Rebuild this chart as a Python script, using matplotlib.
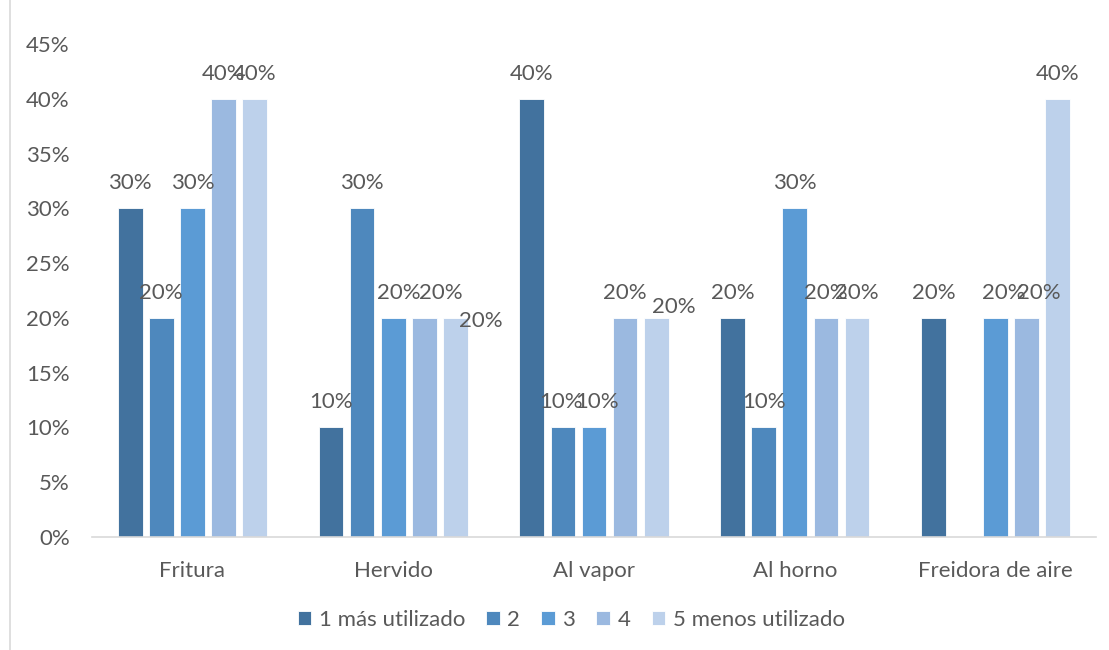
import numpy as np
import matplotlib.pyplot as plt
from matplotlib.lines import Line2D

plt.rcParams['font.family'] = ['Lato', 'DejaVu Sans']

categories = ['Fritura', 'Hervido', 'Al vapor', 'Al horno', 'Freidora de aire']
series_names = ['1 más utilizado', '2', '3', '4', '5 menos utilizado']
s1 = [30, 10, 40, 20, 20]
s2 = [20, 30, 10, 10, np.nan]
s3 = [30, 20, 10, 30, 20]
s4 = [40, 20, 20, 20, 20]
s5 = [40, 20, 20, 20, 40]
series = [s1, s2, s3, s4, s5]

colors = ['#42729E', '#4E88BD', '#5B9BD5', '#9BB9E0', '#BDD1EB']
txt_color = '#595959'
fs = 16

# label nudges (pixels) where excel moved labels around
nudge = {(1, 2): (6, 0), (1, 3): (16, 0), (1, 4): (25, -28), (2, 4): (18, -14),
         (2, 1): (-2, 0), (2, 2): (3, 0), (4, 2): (8, 0), (4, 3): (12, 0)}

fig = plt.figure(figsize=(11.09, 6.5), dpi=100)
ax = fig.add_axes([92 / 1109, 113 / 650, 1004 / 1109, 493 / 650])

x = np.arange(len(categories))
step = 0.155
width = 0.123
for i, vals in enumerate(series):
    pos = x + (i - 2) * step
    ax.bar(pos, vals, width, color=colors[i], edgecolor='white', linewidth=0.6,
           label=series_names[i], zorder=2)
    for j, v in enumerate(vals):
        if np.isnan(v):
            continue
        dx, dy = nudge.get((j, i), (0, 0))
        ax.annotate('%d%%' % v, (pos[j], v), xytext=(dx * 0.72, (25 + dy) * 0.72),
                    textcoords='offset points', ha='center', va='center',
                    fontsize=fs, color=txt_color)

ax.set_xlim(-0.5, 4.5)
ax.set_ylim(0, 45)
ax.set_yticks(range(0, 46, 5))
ax.set_yticklabels(['%d%%' % t for t in range(0, 46, 5)])
ax.set_xticks(x)
ax.set_xticklabels(categories)
ax.tick_params(axis='both', length=0, labelsize=fs, labelcolor=txt_color)
ax.tick_params(axis='y', pad=16)
ax.tick_params(axis='x', pad=17)
for s in ['top', 'right', 'left']:
    ax.spines[s].set_visible(False)
ax.spines['bottom'].set_color('#D9D9D9')
ax.spines['bottom'].set_linewidth(1.2)

fig.add_artist(Line2D([10 / 1109, 10 / 1109], [0, 1], color='#D9D9D9', linewidth=1.2))

leg = ax.legend(loc='center', bbox_to_anchor=(0.515, 30 / 650), bbox_transform=fig.transFigure,
                ncol=5, frameon=False, fontsize=fs, handlelength=0.6, handleheight=0.6,
                handletextpad=0.35, columnspacing=0.95)
for t in leg.get_texts():
    t.set_color(txt_color)

fig.savefig('out.png', dpi=100)
